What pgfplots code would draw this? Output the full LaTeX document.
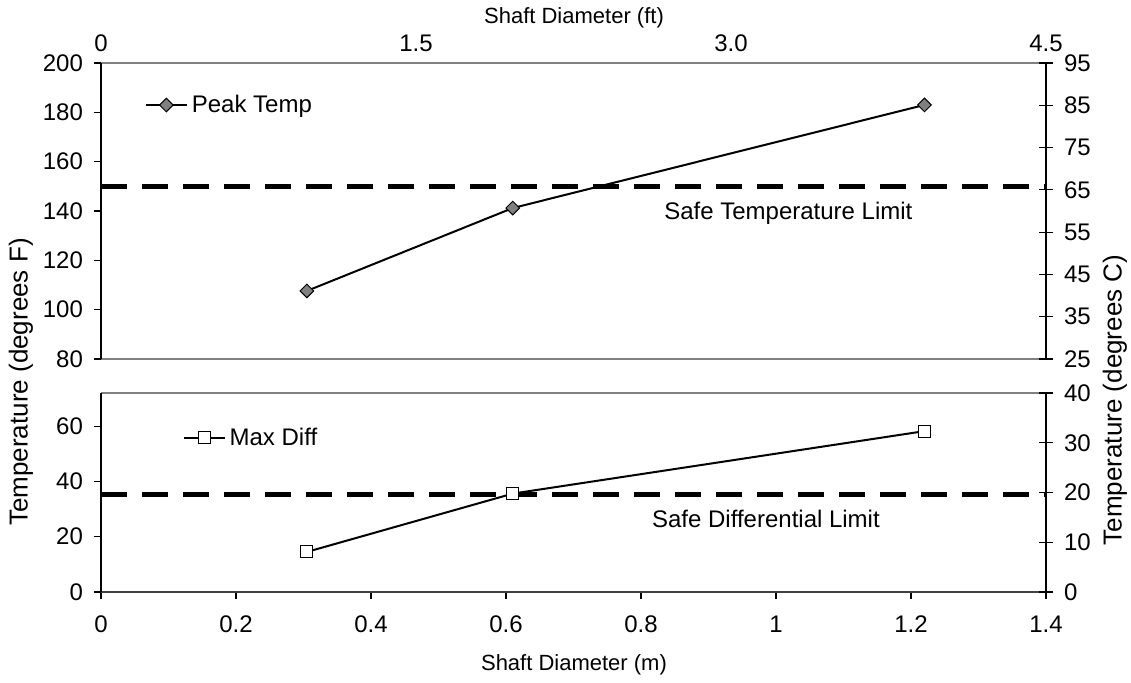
\documentclass[border=0pt]{standalone}
\usepackage{fontspec}
\setmainfont{Liberation Sans}
\usepackage{pgfplots}
\pgfplotsset{compat=1.18}

% 1 px of the reference = 0.5pt
\pgfplotsset{
  panel/.style={
    scale only axis, width=472.5pt, xmin=0, xmax=1.4,
    clip=false,
    axis line style={draw=none},
    /pgf/number format/assume math mode=true,
    tick label style={font=\fontsize{12}{14}\selectfont},
    major tick style={black, line width=0.6pt},
    minor tick num=0,
  },
  limitline/.style={black, line width=2.2pt, dash pattern=on 13pt off 7.5pt},
  dataline/.style={black, line width=1pt},
  leg/.style={
    legend style={draw=none, fill=none, anchor=west, inner sep=0pt,
      font=\fontsize{12}{14}\selectfont},
    legend image code/.code={
      \draw[mark repeat=2, mark phase=2, ##1]
        plot coordinates {(0cm,0cm) (0.36cm,0cm) (0.72cm,0cm)};},
  },
}

\begin{document}
\begin{tikzpicture}

% ---- bottom panel: max differential ----
\begin{axis}[panel, leg, at={(0pt,0pt)}, anchor=south west, height=99.5pt,
  ymin=0, ymax=72, ytick={0,20,40,60},
  xtick={0,0.2,0.4,0.6,0.8,1,1.2,1.4},
  tick pos=left, tick align=outside, major tick length=3.5pt,
  xticklabel style={yshift=-5pt},
  yticklabel style={xshift=-2pt},
  legend style={at={(0.086,0.774)}},
]
\draw[gray, line width=0.6pt] (rel axis cs:0,1) -- (rel axis cs:1,1);
\draw[black!75, line width=1.2pt] (rel axis cs:0,0) -- (rel axis cs:1,0);
\draw[black, line width=0.8pt] (rel axis cs:0,0) -- (rel axis cs:0,1);
\addplot[dataline, mark=square*, mark size=3pt,
  mark options={fill=white, draw=black, line width=0.5pt, solid}]
  coordinates {(0.305,14.5) (0.61,35.6) (1.22,58.2)};
\addlegendentry{Max Diff}
\addplot[limitline, forget plot] coordinates {(0,35.3) (1.4,35.3)};
\node[anchor=west, font=\fontsize{12}{14}\selectfont] at (axis cs:0.806,26.5) {Safe Differential Limit};
\end{axis}

\begin{axis}[panel, at={(0pt,0pt)}, anchor=south west, height=99.5pt,
  ymin=0, ymax=40, ytick={0,10,20,30,40}, xtick=\empty,
  ytick pos=right, tick align=center, major tick length=7pt,
  yticklabel style={xshift=2pt},
]
\addplot[draw=none] coordinates {(0,0)};
\draw[black, line width=0.8pt] (rel axis cs:1,0) -- (rel axis cs:1,1);
\end{axis}

% ---- top panel: peak temperature ----
\begin{axis}[panel, leg, at={(0pt,116.5pt)}, anchor=south west, height=148pt,
  ymin=80, ymax=200, ytick={80,100,...,200},
  xtick={0,0.466667,0.933333,1.4}, xticklabels={0,1.5,3.0,4.5},
  xtick pos=right, ytick pos=left, tick align=outside, major tick length=3.5pt,
  xtick style={draw=none},
  xticklabel style={yshift=-1.5pt},
  yticklabel style={xshift=-2pt},
  legend style={at={(0.046,0.858)}},
]
\draw[gray, line width=0.6pt] (rel axis cs:0,0) -- (rel axis cs:1,0);
\draw[gray, line width=0.6pt] (rel axis cs:0,1) -- (rel axis cs:1,1);
\draw[black, line width=0.8pt] (rel axis cs:0,0) -- (rel axis cs:0,1);
\addplot[dataline, mark=square*, mark size=2.4pt,
  mark options={rotate=45, fill=gray, draw=black, line width=0.5pt, solid}]
  coordinates {(0.305,107.6) (0.61,141.2) (1.22,183)};
\addlegendentry{Peak Temp}
\addplot[limitline, forget plot] coordinates {(0,150) (1.4,150)};
\node[anchor=west, font=\fontsize{12}{14}\selectfont] at (axis cs:0.824,139) {Safe Temperature Limit};
\end{axis}

\begin{axis}[panel, at={(0pt,116.5pt)}, anchor=south west, height=148pt,
  ymin=25, ymax=95, ytick={25,35,...,95}, xtick=\empty,
  ytick pos=right, tick align=center, major tick length=7pt,
  yticklabel style={xshift=2pt},
]
\addplot[draw=none] coordinates {(0,25)};
\draw[black, line width=0.8pt] (rel axis cs:1,0) -- (rel axis cs:1,1);
\end{axis}

% ---- axis titles ----
\node[rotate=90, font=\fontsize{13}{15}\selectfont] at (-40pt,105pt) {Temperature (degrees F)};
\node[rotate=90, font=\fontsize{13}{15}\selectfont] at (507pt,96pt) {Temperature (degrees C)};
\node[font=\fontsize{11}{13}\selectfont] at (236.5pt,-36.5pt) {Shaft Diameter (m)};
\node[font=\fontsize{11}{13}\selectfont] at (236.5pt,287pt) {Shaft Diameter (ft)};

\pgfresetboundingbox
\useasboundingbox (-50.5pt,-45pt) rectangle (515pt,296pt);
\end{tikzpicture}
\end{document}
